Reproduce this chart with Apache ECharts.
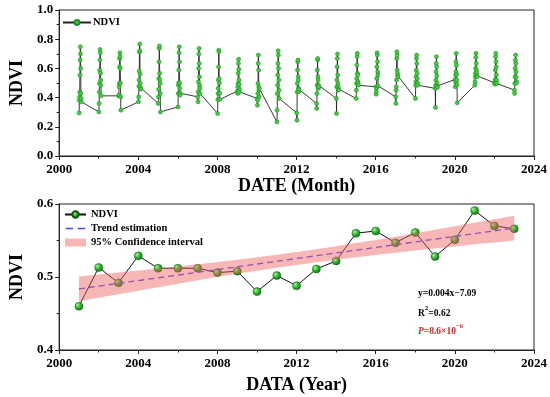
<!DOCTYPE html>
<html>
<head>
<meta charset="utf-8">
<script src="https://cdn.jsdelivr.net/npm/echarts@6/dist/echarts.min.js"></script>
<style>html,body{margin:0;padding:0;background:#fff;}#c{width:550px;height:397px;}</style>
</head>
<body>
<div id="c"></div>
<script>
// ---------- DATA ----------
const years = [2001,2002,2003,2004,2005,2006,2007,2008,2009,2010,2011,2012,2013,2014,2015,2016,2017,2018,2019,2020,2021,2022,2023];
const months = [1,2,3,4,5,6,7,8,9,10,11,12];
// monthly NDVI, one row per year (Jan..Dec)
const monthlyNdvi = [
  [0.295,0.382,0.405,0.439,0.554,0.657,0.748,0.700,0.600,0.428,0.394,0.371], // 2001
  [0.302,0.360,0.439,0.497,0.588,0.657,0.730,0.707,0.566,0.520,0.485,0.412], // 2002
  [0.412,0.417,0.474,0.497,0.611,0.668,0.707,0.680,0.600,0.500,0.405,0.314], // 2003
  [0.371,0.405,0.478,0.520,0.583,0.714,0.767,0.720,0.561,0.497,0.469,0.458], // 2004
  [0.360,0.405,0.456,0.531,0.645,0.737,0.753,0.566,0.520,0.497,0.428,0.302], // 2005
  [0.336,0.428,0.485,0.501,0.588,0.707,0.748,0.645,0.500,0.463,0.430,0.417], // 2006
  [0.405,0.371,0.439,0.508,0.600,0.698,0.737,0.634,0.542,0.485,0.463,0.428], // 2007
  [0.291,0.387,0.428,0.463,0.520,0.611,0.725,0.714,0.531,0.500,0.430,0.387], // 2008
  [0.445,0.428,0.474,0.497,0.566,0.634,0.662,0.593,0.520,0.490,0.460,0.439], // 2009
  [0.394,0.348,0.382,0.428,0.497,0.634,0.691,0.588,0.474,0.451,0.405,0.462], // 2010
  [0.233,0.314,0.428,0.485,0.554,0.634,0.721,0.691,0.600,0.520,0.450,0.394], // 2011
  [0.295,0.245,0.439,0.497,0.588,0.645,0.657,0.542,0.520,0.463,0.440,0.456], // 2012
  [0.360,0.325,0.428,0.485,0.588,0.657,0.668,0.542,0.520,0.463,0.485,0.474], // 2013
  [0.394,0.291,0.474,0.520,0.611,0.668,0.698,0.554,0.497,0.474,0.460,0.451], // 2014
  [0.394,0.451,0.497,0.531,0.623,0.680,0.703,0.566,0.554,0.510,0.497,0.485], // 2015
  [0.474,0.423,0.439,0.463,0.531,0.611,0.707,0.691,0.645,0.577,0.554,0.480], // 2016
  [0.405,0.360,0.451,0.474,0.520,0.668,0.714,0.691,0.588,0.566,0.550,0.542], // 2017
  [0.394,0.485,0.508,0.542,0.588,0.668,0.691,0.634,0.566,0.530,0.500,0.485], // 2018
  [0.463,0.332,0.485,0.520,0.577,0.634,0.680,0.611,0.550,0.500,0.480,0.470], // 2019
  [0.524,0.474,0.508,0.554,0.577,0.645,0.703,0.620,0.560,0.520,0.490,0.364], // 2020
  [0.485,0.508,0.542,0.566,0.600,0.675,0.703,0.634,0.588,0.570,0.550,0.542], // 2021
  [0.501,0.492,0.508,0.524,0.588,0.680,0.703,0.645,0.611,0.554,0.520,0.497], // 2022
  [0.451,0.428,0.497,0.542,0.600,0.657,0.691,0.634,0.577,0.540,0.508,0.500]  // 2023
];
// annual NDVI
const annualNdvi = [0.460,0.513,0.492,0.529,0.512,0.512,0.512,0.506,0.508,0.480,0.502,0.488,0.511,0.522,0.560,0.563,0.547,0.561,0.528,0.551,0.591,0.570,0.566];
// trend line end points
const trendYears = [2001, 2023];
const trendValues = [0.4837, 0.5670];
// 95% confidence band
const ciLower = [0.4667,0.4716,0.4765,0.4813,0.4861,0.4907,0.4954,0.4999,0.5043,0.5086,0.5127,0.5166,0.5203,0.5238,0.5271,0.5302,0.5333,0.5362,0.5391,0.5419,0.5447,0.5474,0.5500];
const ciUpper = [0.5007,0.5034,0.5061,0.5089,0.5117,0.5145,0.5174,0.5205,0.5237,0.5270,0.5305,0.5342,0.5381,0.5422,0.5465,0.5508,0.5553,0.5600,0.5647,0.5695,0.5743,0.5792,0.5840];
const xTicks = [2000, 2024, 4];
// ---------- CHART ----------
const FONT = "'Liberation Serif', 'Times New Roman', serif";
const chart = echarts.init(document.getElementById('c'), null, {renderer: 'canvas'});

const monthlyData = [];
years.forEach((y, i) => months.forEach((m, j) => monthlyData.push([y + m / 100, monthlyNdvi[i][j]])));

function xAxisCfg(gridIndex, name, gap) {
  return {
    type: 'value', gridIndex, min: xTicks[0], max: xTicks[1], interval: xTicks[2],
    name, nameLocation: 'middle', nameGap: gap,
    nameTextStyle: {fontFamily: FONT, fontWeight: 'bold', fontSize: 18, color: '#000'},
    axisLine: {show: true, onZero: false, lineStyle: {color: '#222', width: 1}},
    axisTick: {show: true, inside: false, length: 4, lineStyle: {color: '#222'}},
    minorTick: {show: true, splitNumber: 2, length: 2.5, lineStyle: {color: '#222'}},
    splitLine: {show: false},
    axisLabel: {fontFamily: FONT, fontWeight: 'bold', fontSize: 13, color: '#000', margin: 7,
      formatter: v => String(v)}
  };
}
function yAxisCfg(gridIndex, min, max, interval) {
  return {
    type: 'value', gridIndex, min, max, interval,
    name: 'NDVI', nameLocation: 'middle', nameGap: 25, nameRotate: 90,
    nameTextStyle: {fontFamily: FONT, fontWeight: 'bold', fontSize: 18, color: '#000'},
    axisLine: {show: true, onZero: false, lineStyle: {color: '#222', width: 1}},
    axisTick: {show: true, inside: false, length: 4, lineStyle: {color: '#222'}},
    minorTick: {show: true, splitNumber: 2, length: 2.5, lineStyle: {color: '#222'}},
    splitLine: {show: false},
    axisLabel: {fontFamily: FONT, fontWeight: 'bold', fontSize: 13, color: '#000', margin: 6,
      formatter: v => v.toFixed(1)}
  };
}

const sphere = new echarts.graphic.RadialGradient(0.35, 0.35, 0.75, [
  {offset: 0, color: '#a8f5a0'},
  {offset: 0.45, color: '#2fb52f'},
  {offset: 1, color: '#0b6a0b'}
]);
const dashIcon = 'path://M0,3.3 h7.5 v1.4 h-7.5 z M12,3.3 h7.5 v1.4 h-7.5 z M0,0 h0.01 v0.01 h-0.01 z M19.5,8 h0.01 v0.01 h-0.01 z';

chart.setOption({
  animation: false,
  backgroundColor: '#fff',
  grid: [
    {left: 47.5, right: 16, top: 10, height: 146, show: true, borderColor: '#222', borderWidth: 1, backgroundColor: 'transparent'},
    {left: 47.5, right: 16, top: 204, height: 146, show: true, borderColor: '#222', borderWidth: 1, backgroundColor: 'transparent'}
  ],
  xAxis: [xAxisCfg(0, 'DATE (Month)', 20), xAxisCfg(1, 'DATA (Year)', 26)],
  yAxis: [yAxisCfg(0, 0, 1, 0.2), yAxisCfg(1, 0.4, 0.6, 0.1)],
  legend: [
    {
      data: ['NDVI_m'], left: 57, top: 12, orient: 'vertical',
      itemWidth: 28, itemHeight: 6, itemGap: 2,
      formatter: () => 'NDVI',
      textStyle: {fontFamily: FONT, fontWeight: 'bold', fontSize: 10.5, color: '#000', padding: [0, 0, 0, -3]}
    },
    {
      data: ['NDVI', {name: 'Trend estimation', icon: dashIcon}, {name: '95% Confidence interval', icon: 'rect'}],
      left: 59, top: 204, orient: 'vertical',
      itemWidth: 21, itemHeight: 8, itemGap: 3,
      textStyle: {fontFamily: FONT, fontWeight: 'bold', fontSize: 10.5, color: '#000'}
    }
  ],
  series: [
    {
      name: 'NDVI_m', type: 'line', xAxisIndex: 0, yAxisIndex: 0,
      data: monthlyData, symbol: 'circle', symbolSize: 4, showSymbol: true, showAllSymbol: true,
      lineStyle: {color: '#222', width: 0.9},
      itemStyle: {color: '#3ecf3e', borderColor: '#1d8f1d', borderWidth: 0.6},
      z: 3
    },
    {
      name: 'NDVI', type: 'line', xAxisIndex: 1, yAxisIndex: 1,
      data: years.map((y, i) => [y, annualNdvi[i]]),
      symbol: 'circle', symbolSize: 8,
      lineStyle: {color: '#111', width: 1},
      itemStyle: {color: sphere, borderColor: '#0b5a0b', borderWidth: 0.5},
      z: 3
    },
    {
      name: 'Trend estimation', type: 'line', xAxisIndex: 1, yAxisIndex: 1,
      data: trendYears.map((y, i) => [y, trendValues[i]]),
      symbol: 'none',
      lineStyle: {color: '#4a4af0', width: 1.3, type: [6, 4]},
      itemStyle: {color: '#4a4af0'},
      z: 4
    },
    {
      name: '95% Confidence interval', type: 'custom', xAxisIndex: 1, yAxisIndex: 1,
      data: years.map((y, i) => [y, ciLower[i], ciUpper[i]]),
      itemStyle: {color: 'rgba(240,95,95,0.45)'},
      renderItem: function (params, api) {
        if (params.dataIndex !== 0) return null;
        const pts = [];
        for (let i = 0; i < years.length; i++) pts.push(api.coord([years[i], ciUpper[i]]));
        for (let i = years.length - 1; i >= 0; i--) pts.push(api.coord([years[i], ciLower[i]]));
        return {type: 'polygon', shape: {points: pts}, style: {fill: 'rgba(240,95,95,0.45)', stroke: null}};
      },
      z: 5
    }
  ],
  graphic: [
    {type: 'text', left: 418, top: 289, style: {text: 'y=0.004x\u22127.09', font: 'bold 9.5px ' + FONT, fill: '#000'}},
    {type: 'text', left: 418, top: 305,
      style: {text: '{n|R}{s|2}{n|=0.62}', fill: '#000',
        rich: {n: {font: 'bold 9.5px ' + FONT, lineHeight: 14, verticalAlign: 'bottom', fill: '#000'},
               s: {font: 'bold 7px ' + FONT, lineHeight: 14, verticalAlign: 'top', fill: '#000'}}}},
    {type: 'text', left: 418, top: 323,
      style: {text: '{i|P}{n|=8.6\u00d710}{s|\u22126}', fill: '#e0201e',
        rich: {i: {font: 'italic bold 9.5px ' + FONT, lineHeight: 14, verticalAlign: 'bottom', fill: '#e0201e'},
               n: {font: 'bold 9.5px ' + FONT, lineHeight: 14, verticalAlign: 'bottom', fill: '#e0201e'},
               s: {font: 'bold 6.5px ' + FONT, lineHeight: 14, verticalAlign: 'top', fill: '#e0201e'}}}}
  ]
});
</script>
</body>
</html>
